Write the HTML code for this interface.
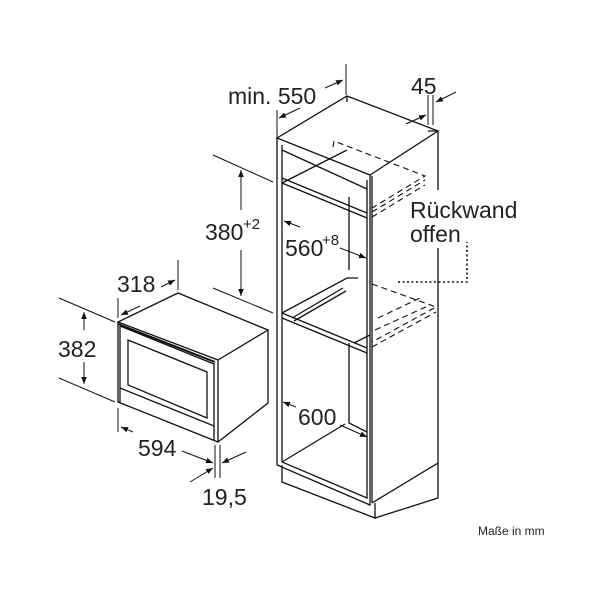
<!DOCTYPE html>
<html><head><style>html,body{margin:0;padding:0;background:#fff}svg{display:block}text{font-family:"Liberation Sans",sans-serif;fill:#222}</style></head><body>
<svg width="600" height="600" viewBox="0 0 600 600" xmlns="http://www.w3.org/2000/svg">
<defs><marker id="a" viewBox="0 0 10 10" refX="10" refY="5" markerWidth="7" markerHeight="7" orient="auto-start-reverse"><path d="M0,1 L10,5 L0,9 z" fill="#111"/></marker></defs>
<g stroke="#111" stroke-width="1.3" fill="none">
<!-- cabinet -->
<path d="M277,138 L347,96 L438,131 L370,175 Z" fill="#fff"/>
<path d="M347,96 L347,102 M438,131 L428,131"/>
<path d="M277,138 L277,465 L370,505 L370,175"/>
<path d="M282,145 L282,462 L367,498 L367,180"/>
<path d="M372,176 L372,503 M438,131 L438,190 M438,248 L438,463 L372,503"/>
<path d="M282,465 L282,482 L375,518 L375,503 M375,518 L438,498 L438,463"/>
<path d="M282,150 L367,189 M282,178 L367,213 M282,183 L367,218"/>
<path d="M282,183 L347,150"/>
<path d="M349,197 L349,270 M349,343 L349,423 L367,432"/>
<path d="M282,462 L345,424"/>
<path d="M282,313 L367,348 M282,318 L367,353"/>
<path d="M282,313 L347,278 L358,278"/>
<path d="M292,318 L343,288 M294,321 L346,291"/>
<path d="M354,343 L370,335"/>
<!-- dashed -->
<g stroke-dasharray="6,4" stroke-width="1.1">
<path d="M333,147 L334,141 L425,176 L372,208 M372,212 L425,180 M372,217 L425,185"/>
<path d="M372,284 L436,307 L372,342 M372,347 L436,312 M378,318 L420,298 M375,330 L430,305"/>
</g>
<path d="M398,282 L467,282 L467,242" stroke-dasharray="2,2.5" stroke-width="1.6"/>
<!-- oven -->
<path d="M118,322 L178,293 L268,330 L218,360 Z" fill="#fff"/>
<path d="M118,322 L118,402 L218,442 L218,360 M218,442 L268,403 L268,330"/>
<path d="M120,326 L214,364 L214,440 M120,326 L120,402"/>
<path d="M128,340 L207,372 L207,418 L128,385 Z"/>
<path d="M120,388 L214,426"/>
<path d="M118,324 L215,362" stroke-width="2"/>
<!-- dimension lines -->
<g stroke-width="1">
<path d="M213,155 L273,182 M213,288 L273,313"/>
<path d="M241,210 L241,170" marker-end="url(#a)"/>
<path d="M241,250 L241,296" marker-end="url(#a)"/>
<path d="M59,298 L115,322 M59,378 L115,402"/>
<path d="M84,362 L84,384" marker-end="url(#a)"/>
<path d="M84,330 L84,312" marker-end="url(#a)"/>
<path d="M178,260 L178,290 M118,298 L118,318"/>
<path d="M140,306 L121,315" marker-end="url(#a)"/>
<path d="M161,287 L175,280" marker-end="url(#a)"/>
<path d="M118,408 L118,432"/>
<path d="M133,432 L121,427" marker-end="url(#a)"/>
<path d="M182,451 L213,463" marker-end="url(#a)"/>
<path d="M215,445 L215,478 M220,445 L220,478"/>
<path d="M190,482 L213,468" marker-end="url(#a)"/>
<path d="M246,452 L222,463" marker-end="url(#a)"/>
<path d="M296,407 L283,402" marker-end="url(#a)"/>
<path d="M340,425 L367,437" marker-end="url(#a)"/>
<path d="M300,227 L284,221" marker-end="url(#a)"/>
<path d="M340,248 L366,258" marker-end="url(#a)"/>
<path d="M277,110 L277,138 M346,64 L346,95"/>
<path d="M300,108 L279,118" marker-end="url(#a)"/>
<path d="M325,88 L343,80" marker-end="url(#a)"/>
<path d="M428,95 L428,125 M433,95 L433,125"/>
<path d="M406,124 L426,115" marker-end="url(#a)"/>
<path d="M456,92 L436,102" marker-end="url(#a)"/>
</g>
</g>
<g font-size="23">
<text x="228" y="104">min. 550</text>
<text x="411" y="94">45</text>
<text x="410" y="218">Rückwand</text>
<text x="410" y="242">offen</text>
<text x="205" y="240">380</text><text x="243" y="229" font-size="15">+2</text>
<text x="285" y="256">560</text><text x="322" y="245" font-size="15">+8</text>
<text x="117" y="292">318</text>
<text x="58" y="357">382</text>
<text x="138" y="456">594</text>
<text x="202" y="505">19,5</text>
<text x="298" y="425">600</text>
<text x="478" y="535" font-size="12">Maße in mm</text>
</g>
</svg>
</body></html>
